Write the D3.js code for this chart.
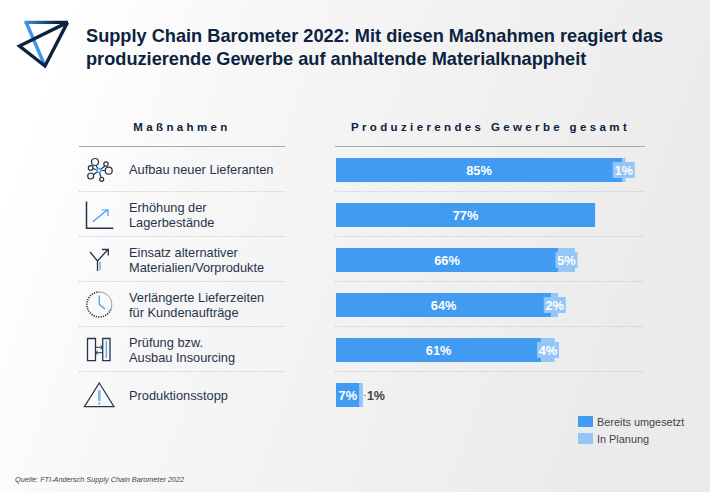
<!DOCTYPE html>
<html lang="de"><head><meta charset="utf-8">
<script src="https://cdn.jsdelivr.net/npm/d3@7/dist/d3.min.js"></script>
<style>html,body{margin:0;padding:0;background:#fff}svg{display:block}text{font-family:"Liberation Sans",Arial,sans-serif}</style>
</head><body><svg id="c" width="710" height="492"></svg>
<script>
const titleLines = ["Supply Chain Barometer 2022: Mit diesen Maßnahmen reagiert das","produzierende Gewerbe auf anhaltende Materialknappheit"];
const categories = ["Aufbau neuer Lieferanten","Erhöhung der|Lagerbestände","Einsatz alternativer|Materialien/Vorprodukte","Verlängerte Lieferzeiten|für Kundenaufträge","Prüfung bzw.|Ausbau Insourcing","Produktionsstopp"];
const umgesetzt = [85,77,66,64,61,7];
const planung = [1,0,5,2,4,1];
const legendLabels = ["Bereits umgesetzt","In Planung"];
const colUmgesetzt="#409bf1", colPlanung="#94c6f7", navy="#0c2340", dark="#26344a";

const svg=d3.select("#c");
const defs=svg.append("defs");
const bg=defs.append("linearGradient").attr("id","bg").attr("x1","0").attr("y1","0").attr("x2","1").attr("y2","0.25");
[[0,"#ffffff"],[0.1,"#ffffff"],[0.35,"#f7f7f7"],[1,"#ebebeb"]].forEach(s=>bg.append("stop").attr("offset",s[0]).attr("stop-color",s[1]));
const lg=defs.append("linearGradient").attr("id","logoTop").attr("gradientUnits","userSpaceOnUse").attr("x1",24).attr("y1",21).attr("x2",70).attr("y2",21);
[[0,"#3b97ee"],[0.7,"#0c2340"]].forEach(s=>lg.append("stop").attr("offset",s[0]).attr("stop-color",s[1]));
svg.append("rect").attr("width",710).attr("height",492).attr("fill","url(#bg)");

// logo
const logo=svg.append("g").attr("fill","none").attr("stroke-width",3.4).attr("stroke-linejoin","miter");
logo.append("path").attr("d","M26 22 L45 66").attr("stroke","#3b97ee");
logo.append("path").attr("d","M24.5 22.4 H68").attr("stroke","url(#logoTop)");
logo.append("path").attr("d","M67.5 22.4 L45 66 L19.5 46 L67.5 22.4").attr("stroke",navy);

// title
svg.append("g").selectAll("text").data(titleLines).join("text")
 .attr("x",86).attr("y",(d,i)=>41.5+i*23.5).attr("font-size",18.2).attr("font-weight",700).attr("fill",navy).text(d=>d);

// scales
const x=d3.scaleLinear().domain([0,100]).range([336,672.5]);
const y=d3.scaleBand().domain(categories).range([147.5,417.5]).paddingInner(0.4667).paddingOuter(0.2333);
const rowC=c=>y(c)+y.bandwidth()/2;

// headers
svg.append("text").attr("x",182).attr("y",131).attr("text-anchor","middle").attr("font-size",11.5).attr("font-weight",700).attr("letter-spacing",3.37).attr("fill",navy).text("Maßnahmen");
svg.append("text").attr("x",490.5).attr("y",131).attr("text-anchor","middle").attr("font-size",11.5).attr("font-weight",700).attr("letter-spacing",3.37).attr("fill",navy).text("Produzierendes Gewerbe gesamt");
[[79,285],[335,645]].forEach(r=>{
 svg.append("line").attr("x1",r[0]).attr("x2",r[1]).attr("y1",146.5).attr("y2",146.5).attr("stroke","#a9a9a9").attr("stroke-width",1);
 categories.slice(0,-1).forEach(c=>{
  const yy=rowC(c)+21.5;
  svg.append("line").attr("x1",r[0]).attr("x2",r[1]).attr("y1",yy).attr("y2",yy).attr("stroke","#bdbdbd").attr("stroke-width",0.8).attr("stroke-dasharray","1 1.2");
 });
});

// row labels
categories.forEach(c=>{
 const lines=c.split("|"), t=svg.append("text").attr("font-size",12.8).attr("fill",dark);
 lines.forEach((l,i)=>t.append("tspan").attr("x",129).attr("y",rowC(c)+4.5+(i-(lines.length-1)/2)*15).text(l));
});

// bars
const rows=categories.map((c,i)=>({c,a:umgesetzt[i],b:planung[i]}));
svg.append("g").selectAll("rect").data(rows).join("rect")
 .attr("x",x(0)).attr("y",d=>y(d.c)).attr("width",d=>x(d.a)-x(0)).attr("height",y.bandwidth()).attr("fill",colUmgesetzt);
svg.append("g").selectAll("rect").data(rows.filter(d=>d.b>0)).join("rect")
 .attr("x",d=>x(d.a)).attr("y",d=>y(d.c)).attr("width",d=>x(d.a+d.b)-x(d.a)).attr("height",y.bandwidth()).attr("fill",colPlanung);
// label boxes behind planned values
const boxed=rows.filter(d=>d.a>50&&d.b>0);
svg.append("g").selectAll("rect").data(boxed).join("rect")
 .attr("x",d=>x(d.a+d.b/2)-11).attr("y",d=>rowC(d.c)-8).attr("width",22).attr("height",16).attr("fill",colPlanung);
// value labels
svg.append("g").selectAll("text").data(rows).join("text")
 .attr("x",d=>x(d.a/2)).attr("y",d=>rowC(d.c)+4.8).attr("text-anchor","middle")
 .attr("font-size",12.8).attr("font-weight",700).attr("fill","#fff").text(d=>d.a+"%");
svg.append("g").selectAll("text").data(boxed).join("text")
 .attr("x",d=>x(d.a+d.b/2)).attr("y",d=>rowC(d.c)+4.8).attr("text-anchor","middle")
 .attr("font-size",12.8).attr("font-weight",700).attr("fill","#fff").text(d=>d.b+"%");
rows.filter(d=>!boxed.includes(d)&&d.b>0).forEach(d=>{
 svg.append("line").attr("x1",x(d.a+d.b)+1).attr("x2",x(d.a+d.b)+3).attr("y1",rowC(d.c)+.5).attr("y2",rowC(d.c)+.5).attr("stroke","#888");
 svg.append("text").attr("x",x(d.a+d.b)+4).attr("y",rowC(d.c)+4.8).attr("font-size",12.5).attr("font-weight",700).attr("fill","#444").text(d.b+"%");
});

// legend
const leg=svg.append("g").selectAll("g").data(legendLabels).join("g").attr("transform",(d,i)=>`translate(578,${416+i*17})`);
leg.append("rect").attr("width",15).attr("height",11).attr("fill",(d,i)=>i?colPlanung:colUmgesetzt);
leg.append("text").attr("x",19).attr("y",10).attr("font-size",10.9).attr("fill","#444").text(d=>d);

// source
svg.append("text").attr("x",15).attr("y",481.5).attr("font-size",7.3).attr("font-style","italic").attr("fill","#444").text("Quelle: FTI-Andersch Supply Chain Barometer 2022");

// icons
const ic=svg.append("g").attr("fill","none").attr("stroke",dark).attr("stroke-width",1.2);
const blue="#409bf1";
// 1 network
[[95,162,3.5],[106,164,2.2],[108.7,170.7,3.5],[90.7,168,2.4],[90.7,176,3],[101.7,179.3,2]].forEach(p=>ic.append("circle").attr("cx",p[0]).attr("cy",p[1]).attr("r",p[2]));
ic.append("path").attr("d","M96 165.5L98 169M105 166L101 169M105 170.5H102M93 168.5L97 170M93 175L97 172M99.5 173L101 177");
ic.append("circle").attr("cx",99).attr("cy",170.5).attr("r",2).attr("stroke",blue).attr("stroke-width",1.4);
// 2 chart
ic.append("path").attr("d","M86.5 201.5V228.3H113.3").attr("stroke-width",1.5);
ic.append("path").attr("d","M92.7 221.7L108 209.5M101.7 210H108V216").attr("stroke",blue).attr("stroke-width",1.2);
// 3 fork
ic.append("path").attr("d","M90 252L97.5 261V271M97.5 261L108 249.5M102 249.5H108.3V255.5").attr("stroke-width",1.3);
ic.append("path").attr("d","M100 262V270").attr("stroke",blue);
// 4 clock
ic.append("path").attr("d","M99.3 292A12.5 12.5 0 0 1 110.8 309.5").attr("stroke","#9a9a9a").attr("stroke-width",1);
ic.append("path").attr("d","M110.8 309.5A12.5 12.5 0 1 1 99.3 292").attr("stroke",dark).attr("stroke-width",1.7).attr("stroke-dasharray","1.2 1.2");
ic.append("path").attr("d","M99.3 295.5V304.5L105 309").attr("stroke",blue).attr("stroke-width",1.3);
// 5 insourcing
ic.append("path").attr("d","M87.5 338.5H95.5V360.7H87.5ZM102.7 338.5H110V360.7H102.7Z").attr("stroke-width",1.3);
ic.append("path").attr("d","M95.5 347.3H102.7M100.5 345.5L102.7 347.3L100.5 349M102.7 352.7H95.5M97.7 351L95.5 352.7L97.7 354.5").attr("stroke-width",1);
ic.append("path").attr("d","M106.3 341V358").attr("stroke",blue).attr("stroke-width",1.2);
// 6 warning
ic.append("path").attr("d","M99.3 383L114 406.7H84.4Z").attr("stroke-width",1.2);
ic.append("path").attr("d","M99.3 390V401").attr("stroke","#7db8ef").attr("stroke-width",2.6);
ic.append("circle").attr("cx",99.3).attr("cy",403.5).attr("r",1.2).attr("fill","#7db8ef").attr("stroke","none");
</script></body></html>
